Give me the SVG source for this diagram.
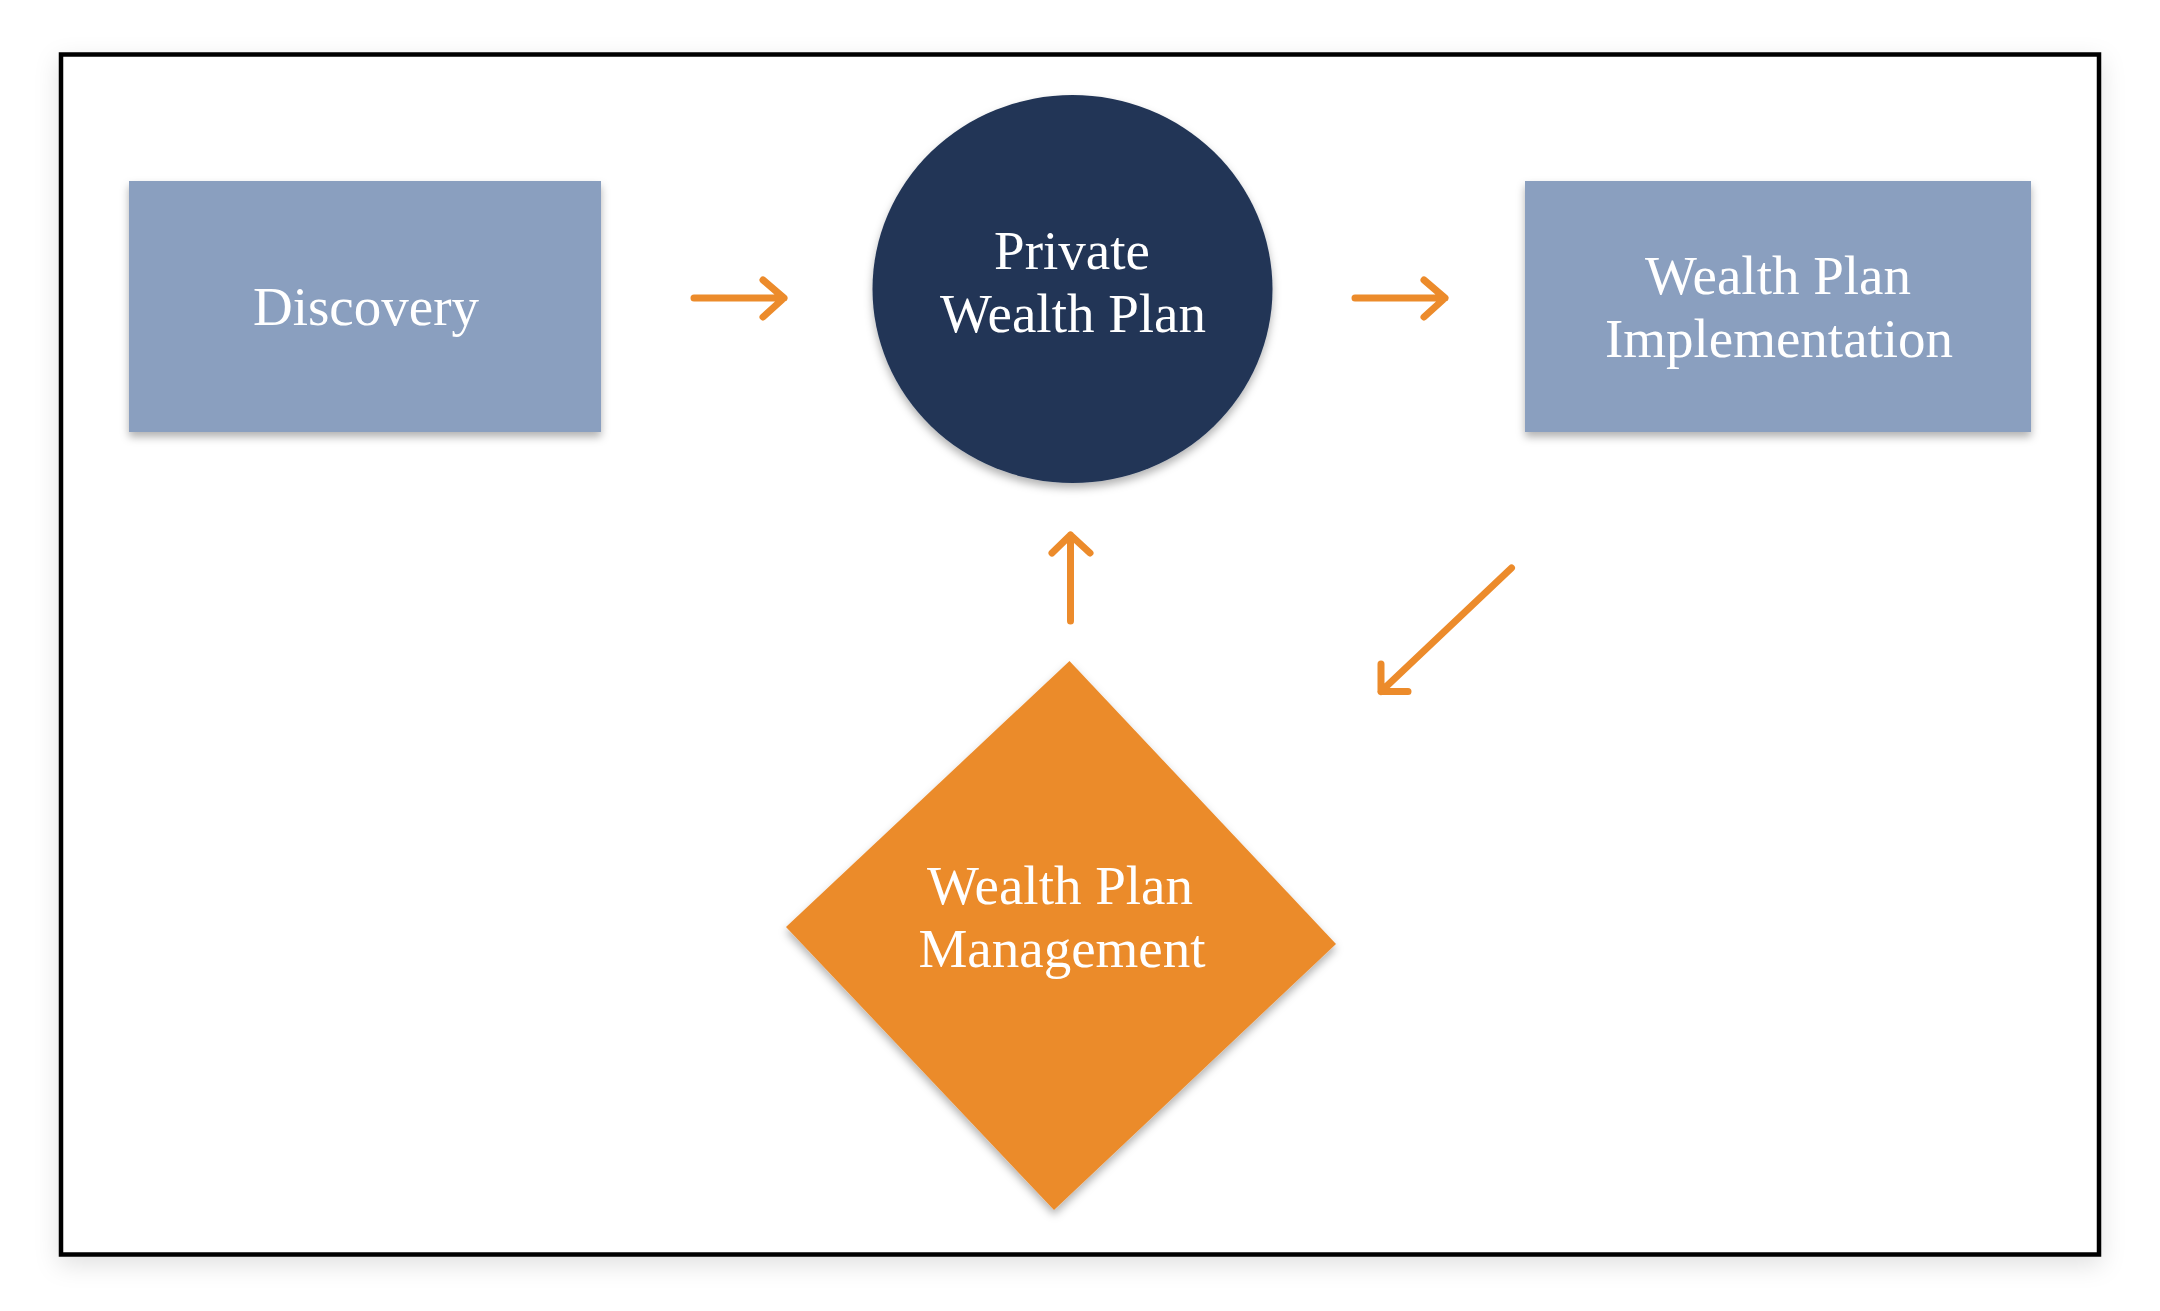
<svg xmlns="http://www.w3.org/2000/svg" width="2160" height="1311" viewBox="0 0 2160 1311">
  <style>
    .lbl { font-family: "Liberation Serif", "Times New Roman", serif; font-size: 55px; fill: #ffffff; text-anchor: middle; }
    .box { fill: #8a9fbf; filter: url(#shadow); }
    .conn { fill: none; stroke: #ec8b2b; stroke-width: 7; stroke-linecap: round; stroke-linejoin: round; }
  </style>
  <defs>
    <filter id="frameShadow" x="-5%" y="-5%" width="110%" height="112%">
      <feDropShadow dx="0" dy="8" stdDeviation="12" flood-color="#000" flood-opacity="0.12"/>
    </filter>
    <filter id="shadow" x="-10%" y="-10%" width="120%" height="130%">
      <feDropShadow dx="0" dy="5" stdDeviation="4" flood-color="#000" flood-opacity="0.3"/>
    </filter>
  </defs>
  <rect width="2160" height="1311" fill="#ffffff"/>
  <rect id="frame" x="61" y="54.5" width="2038" height="1200" fill="#ffffff" stroke="#000000" stroke-width="4.5" filter="url(#frameShadow)"/>

  <g id="discovery">
    <rect class="box" x="129" y="181" width="472" height="251"/>
    <text class="lbl" x="366" y="325">Discovery</text>
  </g>

  <g id="private-wealth-plan">
    <ellipse cx="1072.5" cy="289" rx="200" ry="194" fill="#213556" filter="url(#shadow)"/>
    <text class="lbl" x="1072" y="269">Private</text>
    <text class="lbl" x="1073" y="332">Wealth Plan</text>
  </g>

  <g id="implementation">
    <rect class="box" x="1525" y="181" width="506" height="251"/>
    <text class="lbl" x="1778" y="294">Wealth Plan</text>
    <text class="lbl" x="1779" y="357">Implementation</text>
  </g>

  <g id="management">
    <polygon points="1069.5,661 1336,944 1054,1210 786,927" fill="#eb8b2b" filter="url(#shadow)"/>
    <text class="lbl" x="1060" y="904">Wealth Plan</text>
    <text class="lbl" x="1062" y="967">Management</text>
  </g>

  <g id="connectors">
    <path class="conn" d="M694,298 H784 M763,280 L784,298 L763,317"/>
    <path class="conn" d="M1355,298 H1445 M1424,280 L1445,298 L1424,317"/>
    <path class="conn" d="M1070.5,621 V535 M1052,553 L1070.5,535 L1090,553"/>
    <path class="conn" d="M1511.5,568 L1381,691.5 M1381,664 L1381,691.5 L1408,691.5"/>
  </g>
</svg>
